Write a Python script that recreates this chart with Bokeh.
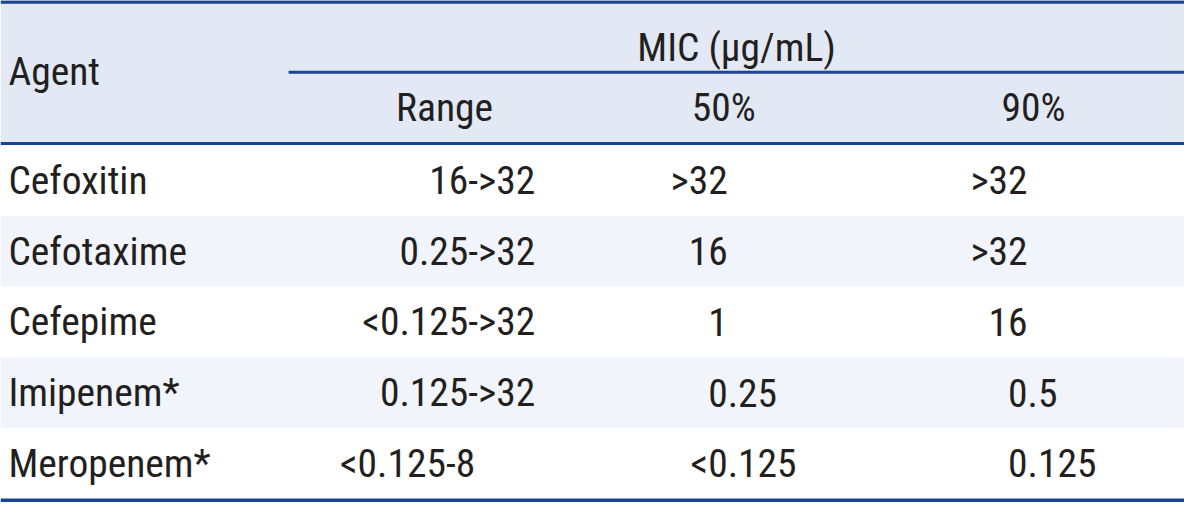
from bokeh.plotting import figure
from bokeh.models import Range1d
from bokeh.core.properties import value
from bokeh.embed import file_html
from bokeh.resources import INLINE

# ---- data ----
first_header = "Agent"
group_header = "MIC (µg/mL)"
col_headers = ["Range", "50%", "90%"]
agents = ["Cefoxitin", "Cefotaxime", "Cefepime", "Imipenem*", "Meropenem*"]
mic_range = ["16->32", "0.25->32", "<0.125->32", "0.125->32", "<0.125-8"]
mic50 = [">32", "16", "1", "0.25", "<0.125"]
mic90 = [">32", ">32", "16", "0.5", "0.125"]

# ---- layout (reference pixel space) ----
REF_W, REF_H = 1200, 518
W, H = 1184, 502
FONT = value("Roboto Condensed")
FS = "%.1fpx" % (40 * W / REF_W)
TXT = "#231f20"
LINE = "#1b4394"
HEAD_BG = "#e2e8f4"
ALT_BG = "#f1f5fb"

header_bottom = 148
body_top, body_bottom = 149, 514
n = len(agents)
row_h = (body_bottom - body_top) / n
mic_line_x0 = 292
col_x = [450, 733, 1047]           # sub-header centres
range_right, range_left = 542, 344
dec_anchor = [737, 1041]           # 50%, 90% decimal anchors

p = figure(width=W, height=H, x_range=Range1d(0, REF_W), y_range=Range1d(REF_H, 0),
           output_backend="svg", toolbar_location=None, min_border=0,
           x_axis_location=None, y_axis_location=None)
p.grid.visible = False
p.outline_line_color = None
p.background_fill_color = "white"
p.border_fill_color = "white"

# backgrounds
p.quad(left=0, right=REF_W, top=0, bottom=header_bottom, fill_color=HEAD_BG, line_color=None)
tops = [body_top + i * row_h for i in range(n)]
bots = [t + row_h for t in tops]
fills = ["white" if i % 2 == 0 else ALT_BG for i in range(n)]
p.quad(left=0, right=REF_W, top=tops, bottom=bots, fill_color=fills, line_color=None)

# rules
p.segment(x0=0, x1=REF_W, y0=1.6, y1=1.6, line_color=LINE, line_width=3.5)
p.segment(x0=0, x1=REF_W, y0=147.5, y1=147.5, line_color=LINE, line_width=3)
p.segment(x0=mic_line_x0, x1=REF_W, y0=74, y1=74, line_color=LINE, line_width=3)
p.segment(x0=0, x1=REF_W, y0=516, y1=516, line_color=LINE, line_width=4)

def txt(x, y, t, align):
    p.text(x=x, y=y, text=t, text_font=FONT, text_font_size=FS, text_color=TXT,
           text_align=align, text_baseline="middle")

# headers (y = cap centre)
txt([8], [73.5], [first_header], "left")
txt([(mic_line_x0 + REF_W) / 2], [49], [group_header], "center")
txt(col_x, [110] * 3, col_headers, "center")

# body
mid = [body_top + (i + 0.5) * row_h for i in range(n)]
txt([8] * n, mid, agents, "left")

r_align = ["right", "right", "right", "right", "left"]
for i in range(n):
    txt([range_right if r_align[i] == "right" else range_left], [mid[i]], [mic_range[i]], r_align[i])

def split_dec(s):
    k = s.find(".")
    return (s, "") if k < 0 else (s[:k], s[k:])

for anchor, col in zip(dec_anchor, [mic50, mic90]):
    ints = [split_dec(s)[0] for s in col]
    fracs = [split_dec(s)[1] for s in col]
    txt([anchor] * n, mid, ints, "right")
    txt([anchor] * n, mid, fracs, "left")

open("out.html", "w").write(file_html(p, INLINE))
